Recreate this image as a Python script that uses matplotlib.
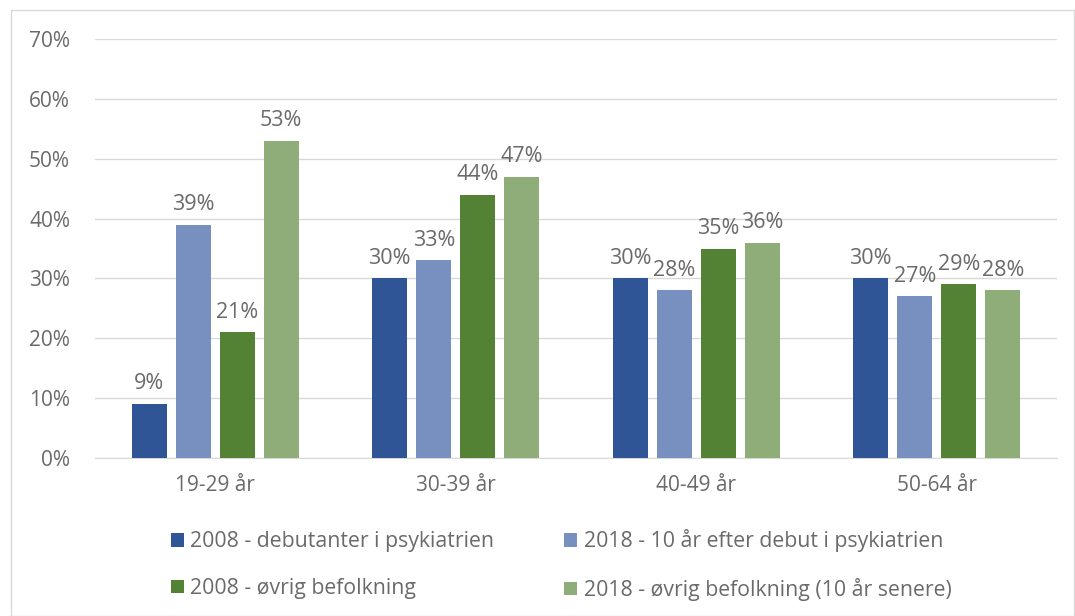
import matplotlib
matplotlib.use("Agg")
import matplotlib.pyplot as plt
import numpy as np
from matplotlib.patches import Rectangle

categories = ["19-29 år", "30-39 år", "40-49 år", "50-64 år"]
series_names = ["2008 - debutanter i psykiatrien",
                "2018 - 10 år efter debut i psykiatrien",
                "2008 - øvrig befolkning",
                "2018 - øvrig befolkning (10 år senere)"]
s2008_psyk = [9, 30, 30, 30]
s2018_psyk = [39, 33, 28, 27]
s2008_bef = [21, 44, 35, 29]
s2018_bef = [53, 47, 36, 28]
yticks = [0, 10, 20, 30, 40, 50, 60, 70]

series = [s2008_psyk, s2018_psyk, s2008_bef, s2018_bef]
colors = ["#2F5597", "#7790BF", "#548235", "#8FAD78"]
txt = "#6A6A6A"

plt.rcParams['font.family'] = ['Open Sans', 'DejaVu Sans']

fig = plt.figure(figsize=(10.75, 6.16), dpi=100)
fig.patches.append(Rectangle((11/1075, 0), 1 - 11/1075 - 0.001, 1 - 10/616, transform=fig.transFigure,
                             fill=False, edgecolor="#D9D9D9", linewidth=1.0))
ax = fig.add_axes([95/1075, 1 - 458/616, (1057 - 95)/1075, (458 - 39)/616])

x = np.arange(len(categories))
pitch = 44/240.5
width = 35/240.5
handles = []
for i, (vals, c, name) in enumerate(zip(series, colors, series_names)):
    pos = x + (i - 1.5) * pitch
    bars = ax.bar(pos, vals, width=width, color=c, label=name, zorder=3)
    handles.append(bars)
    for b, v in zip(bars, vals):
        ax.annotate(f"{v}%", (b.get_x() + b.get_width()/2, v), xytext=(0, 7),
                    textcoords="offset points", ha="center", va="bottom",
                    fontsize=15.5, color=txt)

ax.set_xlim(-0.5, len(categories) - 0.5)
ax.set_ylim(0, 70)
ax.set_yticks(yticks)
ax.set_yticklabels([f"{t}%" for t in yticks])
ax.set_xticks(x)
ax.set_xticklabels(categories)
ax.tick_params(axis="both", length=0, labelsize=15, colors=txt)
ax.tick_params(axis="y", pad=18)
ax.tick_params(axis="x", pad=12)
ax.grid(axis="y", color="#D9D9D9", linewidth=1, zorder=0)
for s in ["top", "right", "left"]:
    ax.spines[s].set_visible(False)
ax.spines["bottom"].set_color("#D9D9D9")

order = [0, 2, 1, 3]
leg = fig.legend([handles[k] for k in order], [series_names[k] for k in order], ncol=2,
                 loc="center left", bbox_to_anchor=(152/1075, 1 - 565/616),
                 frameon=False, fontsize=15.3, handlelength=0.6, handleheight=0.6,
                 handletextpad=0.3, columnspacing=3.3, labelspacing=1.2)
for t in leg.get_texts():
    t.set_color(txt)

fig.savefig("out.png", dpi=100)
